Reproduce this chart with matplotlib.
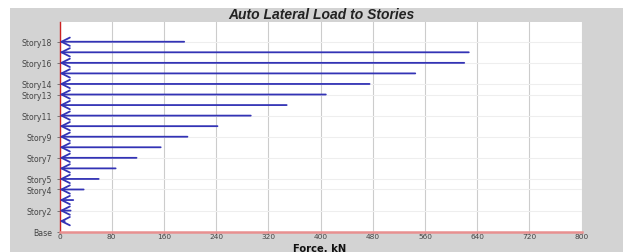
import matplotlib
matplotlib.use("Agg")
import matplotlib.pyplot as plt
from matplotlib.patches import Rectangle

# Data
story_levels = list(range(0, 19))  # Base=0 ... Story18=18
forces = [0, 8, 17, 21, 37, 60, 86, 118, 155, 196, 242, 293, 348, 408, 475, 545, 620, 627, 191]
tick_levels = [0, 2, 4, 5, 7, 9, 11, 13, 14, 16, 18]
tick_names = ["Base", "Story2", "Story4", "Story5", "Story7", "Story9",
              "Story11", "Story13", "Story14", "Story16", "Story18"]
x_ticks = [0, 80, 160, 240, 320, 400, 480, 560, 640, 720, 800]

plt.rcParams['font.family'] = ['Liberation Sans', 'DejaVu Sans']

W, H = 623, 253
fig = plt.figure(figsize=(W / 100, H / 100), dpi=100, facecolor='white')
fig.patches.append(Rectangle((10 / W, 0), 1 - 10 / W, 1 - 9 / H,
                             transform=fig.transFigure, facecolor='#d3d3d3',
                             edgecolor='none', zorder=-5))

ax = fig.add_axes([59.5 / W, 1 - 232.7 / H, (581.7 - 59.5) / W, (232.7 - 22.7) / H])
ax.set_facecolor('white')
ax.set_xlim(0, 800)
ax.set_ylim(0, 19.9)

for lvl, f in zip(story_levels[1:], forces[1:]):
    ax.annotate('', xy=(0, lvl), xytext=(f, lvl),
                arrowprops=dict(arrowstyle='->,head_length=0.6,head_width=0.3',
                                color='#3333b5', lw=1.3, shrinkA=0, shrinkB=0,
                                mutation_scale=10))

ax.set_xticks(x_ticks)
ax.set_xticklabels([str(v) for v in x_ticks], family='DejaVu Sans')
ax.set_yticks(tick_levels)
ax.set_yticklabels(tick_names, family='DejaVu Sans')
ax.tick_params(axis='both', labelsize=5.6, colors='#666666', length=2.5, width=0.6,
               labelcolor='#444444')
ax.tick_params(axis='y', pad=3)
ax.tick_params(axis='x', pad=0, length=1.2, labelsize=5.3)

ax.grid(axis='x', color='#cccccc', lw=0.8)
ax.grid(axis='y', color='#eeeeee', lw=0.8)
ax.set_axisbelow(True)

for s in ['top', 'right']:
    ax.spines[s].set_visible(False)
ax.spines['left'].set_color('#cc2222')
ax.spines['left'].set_linewidth(1.0)
ax.spines['bottom'].set_color('#e89090')
ax.spines['bottom'].set_linewidth(1.8)

fig.text(321 / W, 1 - 15 / H, "Auto Lateral Load to Stories", ha='center', va='center',
         fontsize=10, fontweight='bold', fontstyle='italic', color='#222222')
fig.text(320 / W, 1 - 252.3 / H, "Force, kN", ha='center', va='baseline',
         fontsize=7.2, fontweight='bold', color='#111111', family='DejaVu Sans')

fig.savefig("out.png", dpi=100, facecolor=fig.get_facecolor())
